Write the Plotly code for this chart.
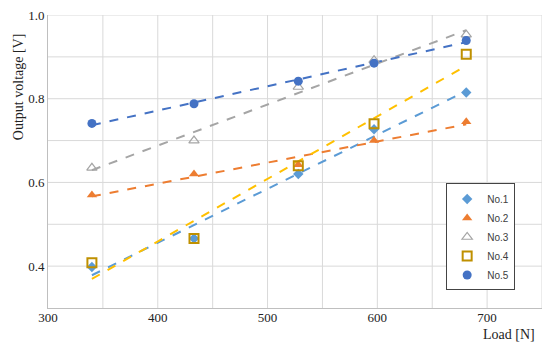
import numpy as np
import plotly.graph_objects as go

load = [340, 433, 528, 597, 681]
no1 = [0.398, 0.466, 0.620, 0.727, 0.815]
no2 = [0.570, 0.620, 0.642, 0.700, 0.745]
no3 = [0.635, 0.700, 0.828, 0.892, 0.953]
no4 = [0.408, 0.466, 0.640, 0.740, 0.906]
no5 = [0.741, 0.788, 0.842, 0.885, 0.939]

names = ["No.1", "No.2", "No.3", "No.4", "No.5"]
series = [no1, no2, no3, no4, no5]
marker_styles = [
    dict(symbol="diamond", color="#5B9BD5", size=8),
    dict(symbol="triangle-up", color="#ED7D31", size=9),
    dict(symbol="triangle-up-open", color="#A5A5A5", size=9, line=dict(width=1.2)),
    dict(symbol="square-open", color="#BF9000", size=9, line=dict(width=2)),
    dict(symbol="circle", color="#4472C4", size=9),
]
line_colors = ["#5B9BD5", "#ED7D31", "#A5A5A5", "#FFC000", "#4472C4"]

fig = go.Figure()
xs = np.array(load, dtype=float)
for name, ys, lc in zip(names, series, line_colors):
    a, b = np.polyfit(xs, np.array(ys), 1)
    xl = np.array([xs.min(), xs.max()])
    fig.add_trace(go.Scatter(x=xl, y=a * xl + b, mode="lines",
                             line=dict(color=lc, width=2, dash="dash"),
                             showlegend=False, hoverinfo="skip"))
for name, ys, ms in zip(names, series, marker_styles):
    fig.add_trace(go.Scatter(x=load, y=ys, mode="markers", name=name, marker=ms))

serif = "Liberation Serif"
fig.update_layout(
    width=550, height=348,
    margin=dict(l=48, r=8, t=11, b=40),
    paper_bgcolor="white", plot_bgcolor="white",
    font=dict(family=serif, size=13, color="#222222"),
    showlegend=True,
    legend=dict(x=0.806, y=0.425, xanchor="left", yanchor="top",
                bgcolor="white", bordercolor="#444444", borderwidth=1,
                font=dict(family="Liberation Sans", size=10, color="#404040"),
                itemwidth=30),
    xaxis=dict(range=[300, 750], tickvals=[300, 400, 500, 600, 700],
               showgrid=False, zeroline=False,
               showline=True, linecolor="#BFBFBF", linewidth=1,
               tickfont=dict(family=serif, size=13, color="#222222"),
               ticks="", ticklabelstandoff=-3),
    yaxis=dict(range=[0.3, 1.0], tickvals=[0.4, 0.6, 0.8, 1.0],
               ticktext=["0.4", "0.6", "0.8", "1.0"],
               showgrid=False, zeroline=False,
               showline=True, linecolor="#BFBFBF", linewidth=1,
               tickfont=dict(family=serif, size=13, color="#222222"),
               ticks=""),
)
# gridlines every 50 / 0.1
for gx in range(350, 751, 50):
    fig.add_shape(type="line", xref="x", yref="paper", x0=gx, x1=gx, y0=0, y1=1,
                  line=dict(color="#D9D9D9", width=1), layer="below")
for gy in [0.4, 0.5, 0.6, 0.7, 0.8, 0.9, 1.0]:
    fig.add_shape(type="line", xref="paper", yref="y", x0=0, x1=1, y0=gy, y1=gy,
                  line=dict(color="#D9D9D9", width=1), layer="below")

fig.add_annotation(text="Output voltage [V]", xref="paper", yref="paper",
                   x=-0.06, y=0.755, textangle=-90, showarrow=False,
                   xanchor="center", yanchor="middle",
                   font=dict(family=serif, size=14, color="#222222"))
fig.add_annotation(text="Load [N]", xref="paper", yref="paper",
                   x=0.99, y=-0.091, xanchor="right", yanchor="middle", showarrow=False,
                   font=dict(family=serif, size=14, color="#222222"))

fig.write_html("out.html", config={"displayModeBar": False},
               post_script="document.body.style.margin='0';document.body.style.overflow='hidden';")
